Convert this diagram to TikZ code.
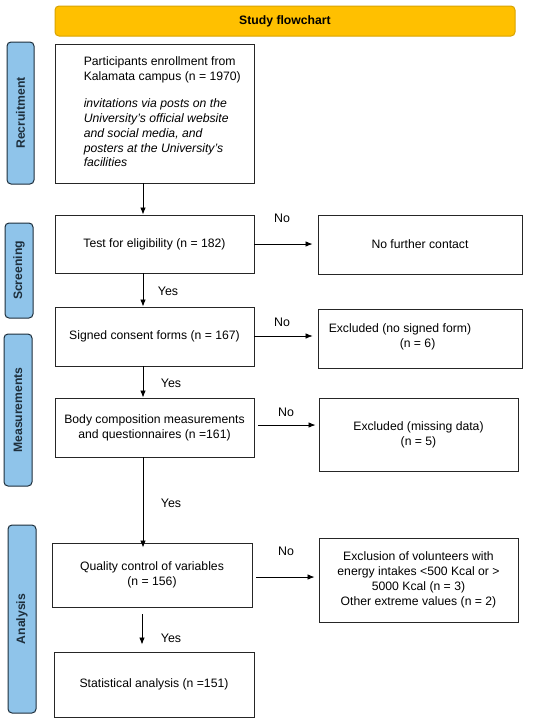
\documentclass[tikz,border=0pt]{standalone}
\usepackage{fontspec}
\setmainfont{Liberation Sans}
\usetikzlibrary{arrows.meta}
\definecolor{titleorange}{HTML}{FFC000}
\definecolor{titleedge}{HTML}{D9A300}
\definecolor{sideblue}{HTML}{8FC4EA}
\definecolor{sideedge}{HTML}{1E2F3C}
\begin{document}
\begin{tikzpicture}[x=1pt,y=-1pt,
 box/.style={draw=black!85, line width=0.9pt, rectangle, inner sep=0pt, font=\fontsize{12.2}{14.8}\selectfont, align=center},
 side/.style={draw=sideedge, fill=sideblue, line width=1pt, rounded corners=4pt, rectangle, inner sep=0pt},
 sidetext/.style={rotate=90, text=sideedge, font=\bfseries\fontsize{12.2}{14}\selectfont},
 arr/.style={-{Latex[length=7pt,width=5.5pt]}, line width=0.8pt},
 lab/.style={font=\fontsize{12.4}{14}\selectfont, inner sep=0pt}]
\useasboundingbox (0,0) rectangle (550,721);
\fill[white] (0,0) rectangle (550,721);
% title
\node[draw=titleedge, fill=titleorange, line width=1pt, rounded corners=4pt, minimum width=460pt, minimum height=30pt, inner sep=0pt, font=\bfseries\fontsize{12.2}{14}\selectfont] (title) at (285,21) {Study flowchart};
% side labels
\node[side, minimum width=27pt, minimum height=142pt] (recr) at (20.5,113) {};
\node[sidetext] (recrt) at (recr.center) {Recruitment};
\node[side, minimum width=28pt, minimum height=95pt] (scr) at (19,270.5) {};
\node[sidetext] (scrt) at (scr.center) {Screening};
\node[side, minimum width=28pt, minimum height=152pt] (meas) at (18,410) {};
\node[sidetext] (meast) at (meas.center) {Measurements};
\node[side, minimum width=28pt, minimum height=188pt] (anal) at (22,619) {};
\node[sidetext] (analt) at (anal.center) {Analysis};
% main boxes
\node[box, minimum width=199pt, minimum height=139pt] (b1) at (154.5,113.5) {};
\node[anchor=north west, inner sep=0pt, align=left, font=\fontsize{12.2}{14.7}\selectfont] (b1t) at ([xshift=29pt, yshift=-13pt]b1.north west)
 {Participants enrollment from\\Kalamata campus (n = 1970)\\[13pt]
 \itshape invitations via posts on the\\\itshape University's official website\\\itshape and social media, and\\\itshape posters at the University's\\\itshape facilities};
\node[box, minimum width=199pt, minimum height=58pt] (b2) at (154.5,244) {Test for eligibility (n = 182)};
\node[box, minimum width=204pt, minimum height=59pt] (nf) at (420,244.5) {No further contact};
\node[box, minimum width=199pt, minimum height=59pt] (b3) at (154.5,336.5) {Signed consent forms (n = 167)};
\node[box, minimum width=204pt, minimum height=59pt] (ex1) at (420,338.5) {};
\node[anchor=west, inner sep=0pt, align=left, font=\fontsize{12.2}{14.5}\selectfont] (ex1t) at ([xshift=11pt, yshift=1.5pt]ex1.west) {Excluded (no signed form)\\\hspace*{71pt}(n = 6)};
\node[box, minimum width=199pt, minimum height=59pt] (b4) at (154.5,427.5) {Body composition measurements\\and questionnaires (n =161)};
\node[box, minimum width=199pt, minimum height=73pt] (ex2) at (418.5,434.5) {Excluded (missing data)\\(n = 5)};
\node[box, minimum width=200pt, minimum height=64pt] (b5) at (152,575) {Quality control of variables\\(n = 156)};
\node[box, minimum width=199pt, minimum height=84pt] (ex3) at (418.5,580) {Exclusion of volunteers with\\energy intakes <500 Kcal or >\\5000 Kcal (n = 3)\\Other extreme values (n = 2)};
\node[box, minimum width=200pt, minimum height=65pt] (b6) at (154,684.5) {Statistical analysis (n =151)};
% vertical arrows
\draw[arr] ([xshift=-11.5pt]b1.south) -- ([xshift=-11.5pt]b1.south |- b2.north);
\draw[arr] ([xshift=-11.5pt]b2.south) -- ([xshift=-11.5pt]b2.south |- b3.north);
\draw[arr] ([xshift=-11.5pt]b3.south) -- ([xshift=-11.5pt]b3.south |- b4.north);
\draw[arr] ([xshift=-11.5pt]b4.south) -- ([xshift=-11.5pt, yshift=-5pt]b4.south |- b5.north);
\draw[arr, shorten <=7pt, shorten >=7pt] ([xshift=-10pt]b5.south) -- ([xshift=-10pt]b5.south |- b6.north);
% horizontal arrows
\draw[arr] (b2.east) -- ([xshift=-5pt]b2.east -| nf.west);
\draw[arr, line width=0.6pt] ([yshift=0.5pt]b3.east) -- ([xshift=-5pt, yshift=0.5pt]b3.east -| ex1.west);
\draw[arr] ([xshift=4pt, yshift=2.5pt]b4.east) -- ([xshift=-3pt, yshift=2.5pt]b4.east -| ex2.west);
\draw[arr] ([xshift=4pt, yshift=-2pt]b5.east) -- ([xshift=-4pt, yshift=-2pt]b5.east -| ex3.west);
% labels
\node[lab] (no1) at (282,218) {No};
\node[lab] (no2) at (282,322) {No};
\node[lab] (no3) at (286,412) {No};
\node[lab] (no4) at (286,551) {No};
\node[lab] (yes1) at (168,291) {Yes};
\node[lab] (yes2) at (171,383) {Yes};
\node[lab] (yes3) at (171,503) {Yes};
\node[lab] (yes4) at (171,638) {Yes};
\end{tikzpicture}
\end{document}
